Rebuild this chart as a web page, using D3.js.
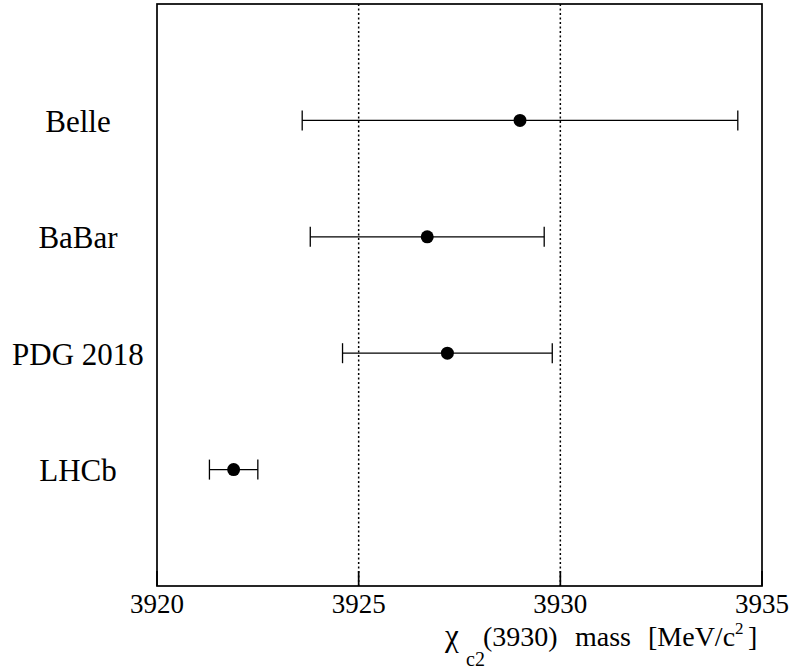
<!DOCTYPE html>
<html>
<head>
<meta charset="utf-8">
<script src="https://cdn.jsdelivr.net/npm/d3@7"></script>
<style>
  body { margin: 0; background: #fff; }
  svg text { font-family: "Liberation Serif", "Times New Roman", serif; fill: #000; }
</style>
</head>
<body>
<div id="chart"></div>
<script>
const experiments = ["Belle", "BaBar", "PDG 2018", "LHCb"];
const masses = [3929.0, 3926.7, 3927.2, 3921.9];
const errors = [5.4, 2.9, 2.6, 0.6];
const rowPos = [4, 3, 2, 1];
const xTicks = [3920, 3925, 3930, 3935];
const gridValues = [3925, 3930];

const W = 795, H = 670;
const margin = { top: 4, right: 33, bottom: 84, left: 157 };
const serif = "'Liberation Serif', 'Times New Roman', serif";

const svg = d3.select("#chart").append("svg")
  .attr("width", W)
  .attr("height", H);

const xScale = d3.scaleLinear()
  .domain([3920, 3935])
  .range([margin.left, W - margin.right]);

const yScale = d3.scaleLinear()
  .domain([0, 5])
  .range([H - margin.bottom, margin.top]);

// dotted grid lines
svg.selectAll(".grid")
  .data(gridValues)
  .enter()
  .append("line")
  .attr("class", "grid")
  .attr("x1", (d) => xScale(d))
  .attr("x2", (d) => xScale(d))
  .attr("y1", yScale(5))
  .attr("y2", yScale(0))
  .attr("stroke", "#000")
  .attr("stroke-width", 1.5)
  .attr("stroke-dasharray", "2,2.5");

// ticks pointing inward + labels
svg.selectAll(".tick-line")
  .data(xTicks)
  .enter()
  .append("line")
  .attr("class", "tick-line")
  .attr("x1", (d) => xScale(d))
  .attr("x2", (d) => xScale(d))
  .attr("y1", yScale(0))
  .attr("y2", yScale(0) - 15)
  .attr("stroke", "#000")
  .attr("stroke-width", 1.7);

svg.selectAll(".tick-label")
  .data(xTicks)
  .enter()
  .append("text")
  .attr("class", "tick-label")
  .attr("x", (d) => xScale(d))
  .attr("y", yScale(0) + 27)
  .attr("text-anchor", "middle")
  .style("font-family", serif)
  .style("font-size", "27px")
  .text((d) => d3.format("d")(d));

// frame
svg.append("rect")
  .attr("x", xScale(3920))
  .attr("y", yScale(5))
  .attr("width", xScale(3935) - xScale(3920))
  .attr("height", yScale(0) - yScale(5))
  .attr("fill", "none")
  .attr("stroke", "#000")
  .attr("stroke-width", 1.7);

const rows = experiments.map((name, i) => ({
  name, mass: masses[i], err: errors[i], pos: rowPos[i]
}));

const capH = 10;
const g = svg.selectAll(".meas")
  .data(rows)
  .enter()
  .append("g")
  .attr("class", "meas");

g.append("line")
  .attr("x1", (d) => xScale(d.mass - d.err))
  .attr("x2", (d) => xScale(d.mass + d.err))
  .attr("y1", (d) => yScale(d.pos))
  .attr("y2", (d) => yScale(d.pos))
  .attr("stroke", "#000")
  .attr("stroke-width", 1.3);

g.append("line")
  .attr("x1", (d) => xScale(d.mass - d.err))
  .attr("x2", (d) => xScale(d.mass - d.err))
  .attr("y1", (d) => yScale(d.pos) - capH)
  .attr("y2", (d) => yScale(d.pos) + capH)
  .attr("stroke", "#000")
  .attr("stroke-width", 1.3);

g.append("line")
  .attr("x1", (d) => xScale(d.mass + d.err))
  .attr("x2", (d) => xScale(d.mass + d.err))
  .attr("y1", (d) => yScale(d.pos) - capH)
  .attr("y2", (d) => yScale(d.pos) + capH)
  .attr("stroke", "#000")
  .attr("stroke-width", 1.3);

g.append("circle")
  .attr("cx", (d) => xScale(d.mass))
  .attr("cy", (d) => yScale(d.pos))
  .attr("r", 6.5)
  .attr("fill", "#000");

g.append("text")
  .attr("x", 78)
  .attr("y", (d) => yScale(d.pos) + 11.5)
  .attr("text-anchor", "middle")
  .style("font-family", serif)
  .style("font-size", "31px")
  .text((d) => d.name);

// axis title, pieces placed like ROOT's TLatex spacing
const titleY = 646;
const title = svg.append("text")
  .attr("y", titleY)
  .style("font-family", serif)
  .style("font-size", "28px");
title.append("tspan").attr("x", 445).style("font-size", "31px").text("χ");
title.append("tspan").attr("x", 466).attr("y", titleY + 20).style("font-size", "20px").text("c2");
title.append("tspan").attr("x", 483).attr("y", titleY).text("(3930)");
title.append("tspan").attr("x", 575).text("mass");
title.append("tspan").attr("x", 648).text("[MeV/c");
title.append("tspan").attr("x", 735).attr("y", titleY - 12).style("font-size", "17px").text("2");
title.append("tspan").attr("x", 748).attr("y", titleY).text("]");
</script>
</body>
</html>
